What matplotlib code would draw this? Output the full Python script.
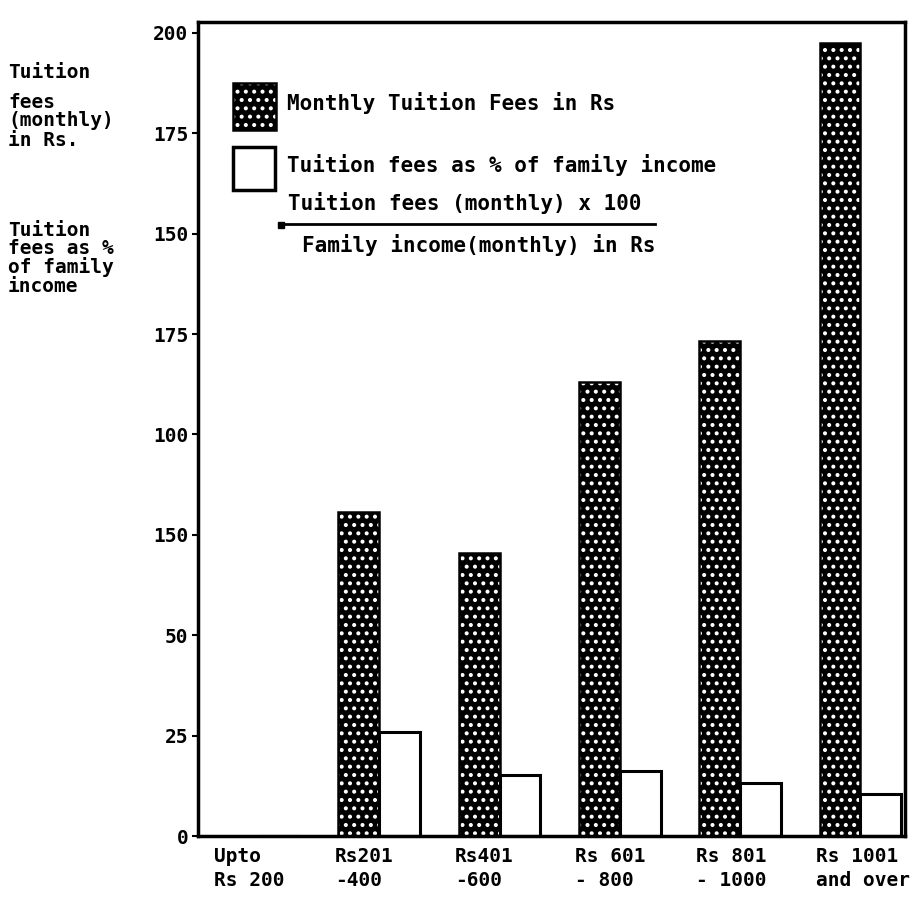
import matplotlib
matplotlib.use("Agg")
import matplotlib.pyplot as plt
from matplotlib.patches import Rectangle
from matplotlib.lines import Line2D
import numpy as np

# ---------------- data ----------------
categories = ["Upto\nRs 200", "Rs201\n-400", "Rs401\n-600",
              "Rs 601\n- 800", "Rs 801\n- 1000", "Rs 1001\nand over"]
monthly_fees = [0, 80.6, 70.4, 113.0, 123.2, 197.5]
fee_pct = [0, 26.0, 15.1, 16.1, 13.2, 10.5]
ytick_values = [0, 25, 50, 75, 100, 125, 150, 175, 200]
ytick_labels = ["0", "25", "50", "150", "100", "175", "150", "175", "200"]

# ---------------- style ----------------
FONT = "DejaVu Sans Mono"
WEIGHT = "bold"
plt.rcParams["font.family"] = [FONT, "DejaVu Sans"]
plt.rcParams["hatch.linewidth"] = 1.7

W, H = 913, 907
fig = plt.figure(figsize=(W / 100, H / 100), dpi=100)
fig.patch.set_facecolor("white")

def fx(px):
    return px / W

def fy(py):
    return 1 - py / H

ax = fig.add_axes([fx(198), fy(836), fx(905) - fx(198), fy(22) - fy(836)])

x = np.arange(len(categories))
w = 0.34

# dotted bars (black with white dots) + black outline
ax.bar(x - w / 2, monthly_fees, w, color="black", edgecolor="white",
       hatch="..", linewidth=0)
ax.bar(x - w / 2, monthly_fees, w, fill=False, edgecolor="black", linewidth=1.8)
# open bars
ax.bar(x + w / 2, fee_pct, w, facecolor="white", edgecolor="black", linewidth=2.2)

ax.set_xlim(-0.507, 5.37)
ax.set_ylim(0, 202.7)

ax.set_yticks(ytick_values)
ax.set_yticklabels(ytick_labels, fontsize=14, family=FONT, weight=WEIGHT)
ax.tick_params(axis="y", length=4, width=1.5, pad=3)

ax.set_xticks(x - 0.37)
ax.set_xticklabels(categories, fontsize=14, family=FONT, weight=WEIGHT, ha="left")
for t in ax.get_xticklabels():
    t.set_linespacing(1.35)
ax.tick_params(axis="x", length=0, pad=8)

for s in ax.spines.values():
    s.set_linewidth(2.5)
    s.set_color("black")

# ---------------- left-side descriptions ----------------
left_lines = [("Tuition", 72), ("fees", 102), ("(monthly)", 120), ("in Rs.", 140),
              ("Tuition", 230), ("fees as %", 248), ("of family", 267), ("income", 287)]
for txt, py in left_lines:
    fig.text(fx(8), fy(py), txt, fontsize=14, family=FONT, weight=WEIGHT,
             ha="left", va="center")

# ---------------- legend ----------------
fig.patches.append(Rectangle((fx(233), fy(130)), fx(276) - fx(233), fy(83) - fy(130),
                             transform=fig.transFigure, facecolor="black",
                             edgecolor="white", hatch="..", linewidth=0))
fig.patches.append(Rectangle((fx(233), fy(130)), fx(276) - fx(233), fy(83) - fy(130),
                             transform=fig.transFigure, fill=False,
                             edgecolor="black", linewidth=1.8))
fig.patches.append(Rectangle((fx(233), fy(190)), fx(275) - fx(233), fy(147) - fy(190),
                             transform=fig.transFigure, facecolor="white",
                             edgecolor="black", linewidth=2.5))

fig.text(fx(287), fy(103), "Monthly Tuition Fees in Rs", fontsize=15, family=FONT,
         weight=WEIGHT, ha="left", va="center")
fig.text(fx(287), fy(165), "Tuition fees as % of family income", fontsize=15,
         family=FONT, weight=WEIGHT, ha="left", va="center")
fig.text(fx(288), fy(203), "Tuition fees (monthly) x 100", fontsize=15, family=FONT,
         weight=WEIGHT, ha="left", va="center")
fig.lines.append(Line2D([fx(280), fx(655)], [fy(224), fy(224)], transform=fig.transFigure,
                        color="black", linewidth=2))
fig.lines.append(Line2D([fx(281)], [fy(225)], transform=fig.transFigure,
                        color="black", marker="s", markersize=5, linestyle="none"))
fig.text(fx(302), fy(245), "Family income(monthly) in Rs", fontsize=15, family=FONT,
         weight=WEIGHT, ha="left", va="center")

fig.savefig("out.png", dpi=100, facecolor="white")
